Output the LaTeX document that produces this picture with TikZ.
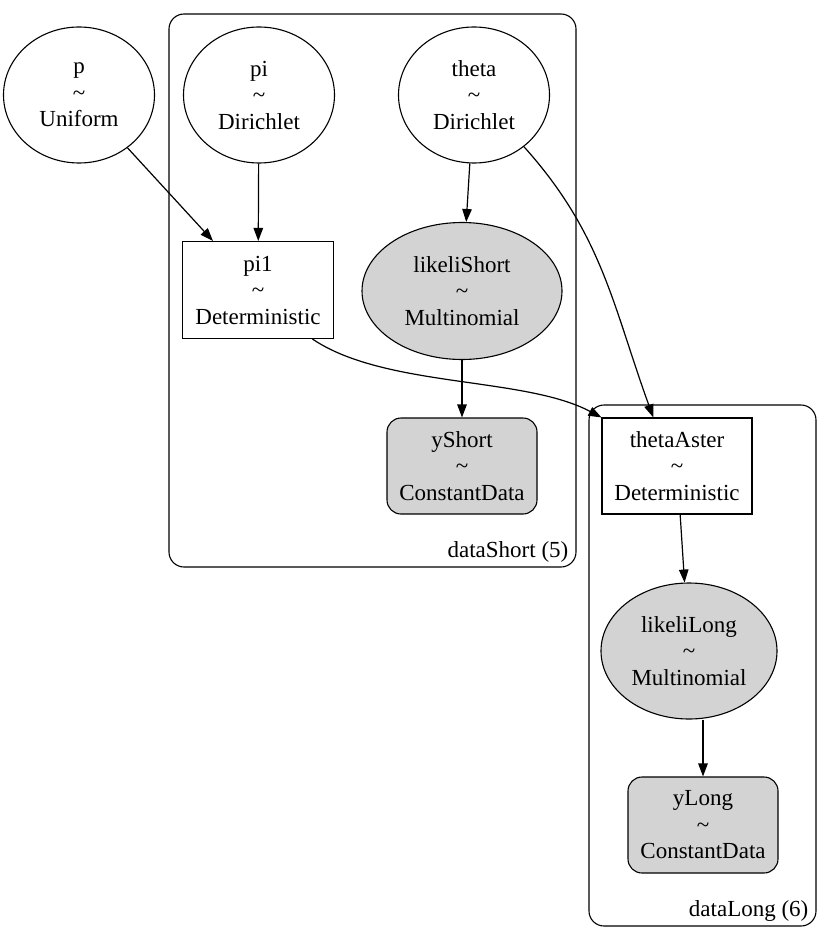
\documentclass[tikz,border=0pt]{standalone}
\usepackage{fontspec}
\setmainfont{Liberation Serif}
\usetikzlibrary{arrows.meta,positioning,shapes.geometric}
\definecolor{obsgray}{HTML}{D3D3D3}
\newcommand\gvfont{\fontsize{23}{26.5}\selectfont}
\newcommand\dist[2]{#1\\\textasciitilde\\#2}
\tikzset{rv/.style={draw,ellipse,line width=1.1pt,inner sep=0pt,minimum width=151pt,minimum height=136pt,
 align=center,font=\gvfont},det/.style={draw,rectangle,line width=1.1pt,inner sep=0pt,minimum width=151pt,
 minimum height=97pt,align=center,font=\gvfont},obs/.style={draw,rectangle,rounded corners=14pt,fill=obsgray,
 line width=1.1pt,inner sep=0pt,minimum width=150pt,minimum height=96pt,align=center,font=\gvfont},
 plate/.style={draw,rectangle,rounded corners=15pt,line width=1.1pt,inner sep=0pt},
 arr/.style={-{Triangle[length=13pt,width=9.5pt]},line width=1.2pt}}

\begin{document}
\begin{tikzpicture}[x=1pt,y=-1pt]
\useasboundingbox (0,0) rectangle (830,939);
% plates
\node[plate,minimum width=407pt,minimum height=553pt] (dataShort) at (372.5,290.5) {};
\node[plate,minimum width=227pt,minimum height=521pt] (dataLong) at (702.5,665.5) {};
\node[above left=5pt and 8pt of dataShort.south east,inner sep=0pt,font=\gvfont] (dataShortLbl) {dataShort (5)};
\node[above left=5pt and 8pt of dataLong.south east,inner sep=0pt,font=\gvfont] (dataLongLbl) {dataLong (6)};
% variables
\node[rv] (p) at (79,95) {\dist{p}{Uniform}};
\node[rv] (pi) at (259,95) {\dist{pi}{Dirichlet}};
\node[rv] (theta) at (474,95) {\dist{theta}{Dirichlet}};
\node[det] (pi1) at (258,290) {\dist{pi1}{Deterministic}};
\node[rv,fill=obsgray,minimum width=200pt,minimum height=137pt] (likeliShort) at (462,291) {\dist{likeliShort}{Multinomial}};
\node[obs] (yShort) at (462,466) {\dist{yShort}{ConstantData}};
\node[det,minimum width=150pt,minimum height=96pt] (thetaAster) at (677,466) {\dist{thetaAster}{Deterministic}};
\node[rv,fill=obsgray,minimum width=176pt,minimum height=136pt] (likeliLong) at (689,651) {\dist{likeliLong}{Multinomial}};
\node[obs] (yLong) at (703,825) {\dist{yLong}{ConstantData}};
% edges
\draw[arr] (p) -- (pi1);
\draw[arr] (pi) -- (pi1);
\draw[arr] (theta) -- (likeliShort);
\draw[arr] (likeliShort) -- (yShort);
\draw[arr] (theta.-46) to[out=-48,in=110] (thetaAster.116);
\draw[arr] (pi1.-42) to[out=-34,in=152,looseness=0.75] (thetaAster.north west);
\draw[arr] (thetaAster) -- (likeliLong);
\draw[arr] (likeliLong.south -| yLong.north) -- (yLong);
\end{tikzpicture}
\end{document}
